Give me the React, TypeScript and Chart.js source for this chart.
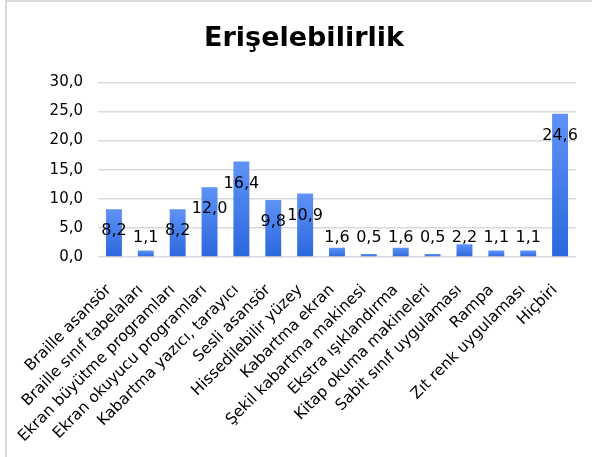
import React, { useEffect, useRef } from "react";
import { Chart, registerables } from "chart.js";

Chart.register(...registerables);

const chartTitle = "Erişelebilirlik";
const categories = [
  "Braille asansör",
  "Braille sınıf tabelaları",
  "Ekran büyütme programları",
  "Ekran okuyucu programları",
  "Kabartma yazıcı, tarayıcı",
  "Sesli asansör",
  "Hissedilebilir yüzey",
  "Kabartma ekran",
  "Şekil kabartma makinesi",
  "Ekstra ışıklandırma",
  "Kitap okuma makineleri",
  "Sabit sınıf uygulaması",
  "Rampa",
  "Zıt renk uygulaması",
  "Hiçbiri",
];
const values = [8.2, 1.1, 8.2, 12.0, 16.4, 9.8, 10.9, 1.6, 0.5, 1.6, 0.5, 2.2, 1.1, 1.1, 24.6];
const yMin = 0;
const yMax = 30;
const yStep = 5;

const FONT = '"DejaVu Sans", sans-serif';
const BAR_TOP = "#5f92f6";
const BAR_BOTTOM = "#2b68dd";

const fmt = (v: number) => v.toFixed(1).replace(".", ",");

const barLabels = {
  id: "barLabels",
  afterDatasetsDraw(chart: any) {
    const ctx = chart.ctx;
    const meta = chart.getDatasetMeta(0);
    ctx.save();
    ctx.font = `16px ${FONT}`;
    ctx.fillStyle = "#000";
    ctx.textAlign = "center";
    ctx.textBaseline = "middle";
    meta.data.forEach((el: any, i: number) => {
      const y = Math.min(el.y + 22, el.base - 18);
      ctx.fillText(fmt(values[i]), el.x, y);
    });
    ctx.restore();
  },
};

export default function App() {
  const ref = useRef<HTMLCanvasElement | null>(null);

  useEffect(() => {
    if (!ref.current) return;
    const chart = new Chart(ref.current, {
      type: "bar",
      data: {
        labels: categories,
        datasets: [
          {
            data: values,
            barPercentage: 0.5,
            categoryPercentage: 1.0,
            backgroundColor: (c: any) => {
              const ch = c.chart;
              const ys = ch.scales && ch.scales.y;
              if (!ys || typeof c.raw !== "number") return BAR_BOTTOM;
              const top = ys.getPixelForValue(c.raw);
              const base = ys.getPixelForValue(0);
              if (!isFinite(top) || !isFinite(base) || top === base) return BAR_BOTTOM;
              const g = ch.ctx.createLinearGradient(0, top, 0, base);
              g.addColorStop(0, BAR_TOP);
              g.addColorStop(1, BAR_BOTTOM);
              return g;
            },
          },
        ],
      },
      options: {
        animation: false,
        responsive: true,
        maintainAspectRatio: false,
        layout: { padding: { left: 32, right: 32, top: 0, bottom: 0 } },
        plugins: {
          legend: { display: false },
          tooltip: { enabled: false },
          title: {
            display: true,
            text: chartTitle,
            color: "#000",
            font: { family: FONT, size: 27, weight: "bold" },
            padding: { top: 23, bottom: 27 },
          },
        },
        scales: {
          x: {
            grid: { display: false },
            border: { display: false },
            ticks: {
              color: "#000",
              font: { family: FONT, size: 15.5 },
              maxRotation: 45,
              minRotation: 45,
              autoSkip: false,
              padding: 16,
              labelOffset: -5,
            },
            afterFit: (s: any) => {
              s.paddingLeft = 0;
              s.paddingRight = 0;
              s.height = 200;
            },
          },
          y: {
            min: yMin,
            max: yMax,
            border: { display: false },
            grid: { color: "#d9d9d9", lineWidth: 1.5, drawTicks: false },
            ticks: {
              stepSize: yStep,
              color: "#000",
              font: { family: FONT, size: 15 },
              padding: 15,
              callback: (v: any) => fmt(Number(v)),
            },
            afterFit: (s: any) => {
              s.width = 66;
              s.paddingTop = 0;
              s.paddingBottom = 0;
            },
          },
        },
      },
      plugins: [barLabels],
    });
    return () => chart.destroy();
  }, []);

  return (
    <div
      style={{
        position: "fixed",
        left: 0,
        top: 0,
        width: 592,
        height: 457,
        overflow: "hidden",
        background: "#fff",
      }}
    >
      <div
        style={{
          position: "absolute",
          left: 5,
          top: 0,
          width: 640,
          height: 500,
          borderLeft: "2px solid #d9d9d9",
          borderTop: "2px solid #d9d9d9",
        }}
      />
      <div style={{ position: "absolute", left: 0, top: 0, width: 608, height: 457 }}>
        <canvas ref={ref} />
      </div>
    </div>
  );
}
